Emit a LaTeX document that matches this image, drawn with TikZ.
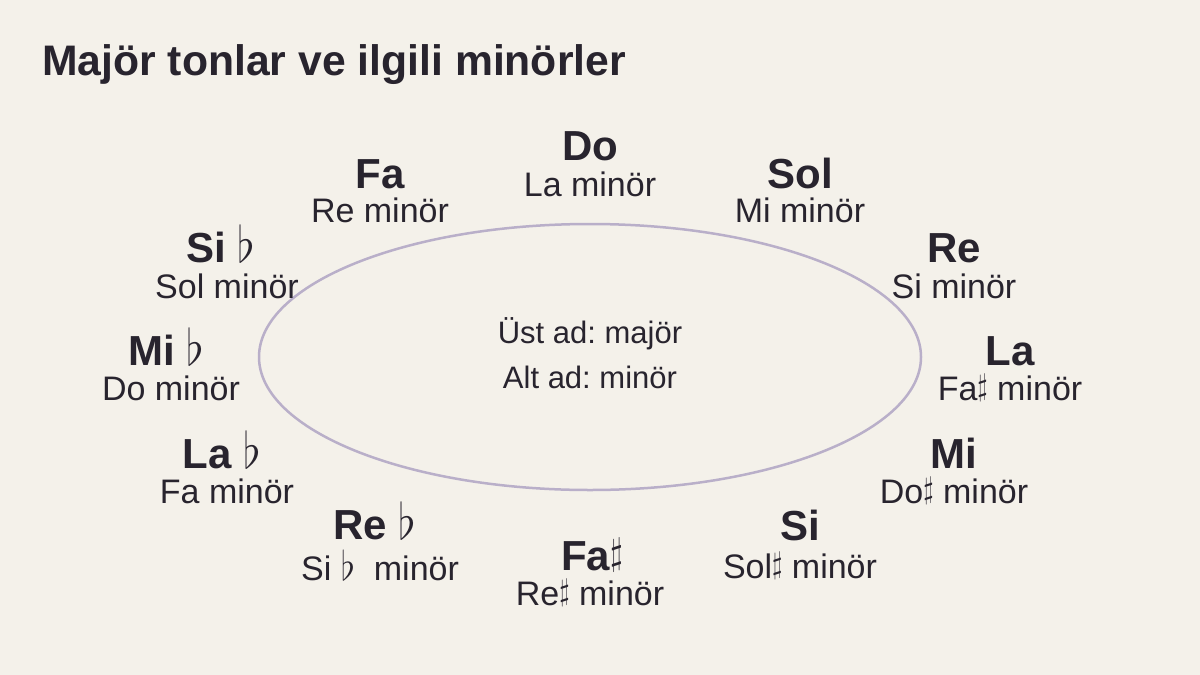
\RequirePackage{fix-cm}
\documentclass[tikz,border=0pt]{standalone}
\usepackage{fontspec}
\setmainfont{Liberation Sans}
\definecolor{bgc}{HTML}{F4F1EA}
\definecolor{ink}{HTML}{28242E}
\definecolor{ringc}{HTML}{B9AFC9}
\newcommand{\fl}{\scalebox{1.1}[1.2]{$\flat$}}
\newcommand{\shp}{\raisebox{0.14em}{\scalebox{0.8}[0.9]{$\sharp$}}}
\frenchspacing
\tikzset{
  majorlbl/.style={anchor=base, inner sep=0pt, text=ink, font=\fontsize{42}{48}\selectfont\bfseries},
  minorlbl/.style={anchor=base, inner sep=0pt, text=ink, font=\fontsize{34}{40}\selectfont},
  centerlbl/.style={anchor=base, inner sep=0pt, text=ink, font=\fontsize{31}{36}\selectfont},
  titlelbl/.style={anchor=base west, inner sep=0pt, text=ink, font=\fontsize{42.7}{50}\selectfont\bfseries},
  ring/.style={draw=ringc, line width=2.5pt}
}
\begin{document}
\begin{tikzpicture}[x=1pt,y=-1pt]
\fill[bgc] (0,0) rectangle (1200,675);
\useasboundingbox (0,0) rectangle (1200,675);
\node[titlelbl] (title) at (42,75) {Majör tonlar ve ilgili minörler};
\draw[ring] (590,357) ellipse [x radius=331, y radius=133];
\node[centerlbl] (c1) at (590,343) {Üst ad: majör};
\node[centerlbl] (c2) at (590,388) {Alt ad: minör};
% keys
\node[majorlbl] (doM) at (590,160) {Do};
\node[minorlbl] (dom) at (590,196) {La minör};
\node[majorlbl] (solM) at (800,188) {Sol};
\node[minorlbl] (solm) at (800,222) {Mi minör};
\node[majorlbl] (reM) at (954,262) {Re};
\node[minorlbl] (rem) at (954,298) {Si minör};
\node[majorlbl] (laM) at (1010,365) {La};
\node[minorlbl] (lam) at (1010,400) {Fa\shp{} minör};
\node[majorlbl] (miM) at (954,468) {Mi};
\node[minorlbl] (mim) at (954,503) {Do\shp{} minör};
\node[majorlbl] (siM) at (800,540) {Si};
\node[minorlbl] (sim) at (800,578) {Sol\shp{} minör};
\node[majorlbl] (fasM) at (592,570) {Fa\shp};
\node[minorlbl] (fasm) at (590,605) {Re\shp{} minör};
\node[majorlbl] (rebM) at (375,539) {Re \fl};
\node[minorlbl] (rebm) at (380,580) {Si \fl{}\ \ minör};
\node[majorlbl] (labM) at (222,468) {La \fl};
\node[minorlbl] (labm) at (227,503) {Fa minör};
\node[majorlbl] (mibM) at (166,365) {Mi \fl};
\node[minorlbl] (mibm) at (171,400) {Do minör};
\node[majorlbl] (sibM) at (221,262) {Si \fl};
\node[minorlbl] (sibm) at (227,298) {Sol minör};
\node[majorlbl] (faM) at (380,188) {Fa};
\node[minorlbl] (fam) at (380,222) {Re minör};
\end{tikzpicture}
\end{document}
